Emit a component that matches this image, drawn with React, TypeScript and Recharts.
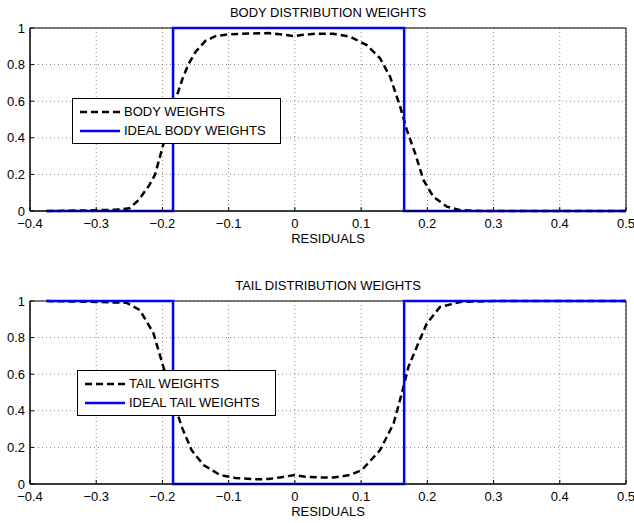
import React from 'react';
import {
  LineChart,
  Line,
  XAxis,
  YAxis,
  CartesianGrid,
  Legend,
  ReferenceArea,
} from 'recharts';

// ---- data ----
const xTicks = [-0.4, -0.3, -0.2, -0.1, 0, 0.1, 0.2, 0.3, 0.4, 0.5];
const yTicks = [0, 0.2, 0.4, 0.6, 0.8, 1];

const bodyX = [-0.375, -0.35, -0.3, -0.27, -0.25, -0.236, -0.22, -0.211, -0.199, -0.19, -0.181, -0.17, -0.161, -0.15, -0.135, -0.12, -0.1, -0.07, -0.04, -0.02, 0, 0.01, 0.03, 0.058, 0.083, 0.1085, 0.1286, 0.1438, 0.159, 0.169, 0.1816, 0.194, 0.209, 0.2295, 0.2495, 0.27, 0.3, 0.5];
const bodyY = [0, 0.001, 0.004, 0.007, 0.015, 0.06, 0.14, 0.2, 0.36, 0.48, 0.6, 0.72, 0.8, 0.87, 0.93, 0.955, 0.965, 0.97, 0.972, 0.965, 0.955, 0.962, 0.968, 0.968, 0.953, 0.907, 0.834, 0.734, 0.57, 0.443, 0.315, 0.17, 0.078, 0.024, 0.005, 0.001, 0, 0];

const idealBodyX = [-0.375, -0.184, -0.184, 0.165, 0.165, 0.5];
const idealBodyY = [0, 0, 1, 1, 0, 0];

const tailX = [-0.375, -0.3, -0.254, -0.234, -0.2137, -0.1986, -0.1835, -0.171, -0.156, -0.138, -0.113, -0.09, -0.0627, -0.04, -0.0224, 0, 0.015, 0.038, 0.058, 0.083, 0.101, 0.1286, 0.149, 0.1615, 0.1715, 0.184, 0.199, 0.219, 0.25, 0.3, 0.5];
const tailY = [1, 0.995, 0.99, 0.95, 0.825, 0.64, 0.458, 0.313, 0.185, 0.104, 0.049, 0.033, 0.026, 0.027, 0.036, 0.049, 0.04, 0.036, 0.035, 0.049, 0.076, 0.185, 0.33, 0.496, 0.64, 0.749, 0.876, 0.967, 0.995, 1, 1];

const idealTailX = [-0.375, -0.184, -0.184, 0.165, 0.165, 0.5];
const idealTailY = [1, 1, 0, 0, 1, 1];

const zip = (xs: number[], ys: number[]) => xs.map((x, i) => ({ x, y: ys[i] }));

const FONT = '"Liberation Sans", Arial, Helvetica, sans-serif';

const fmtX = (v: number) => {
  const r = Math.round(v * 10) / 10;
  if (r === 0) return '0';
  return r < 0 ? '\u2212' + Math.abs(r).toString() : r.toString();
};
const fmtY = (v: number) => {
  const r = Math.round(v * 10) / 10;
  return r.toString();
};

type LegendItem = { label: string; color: string; dash?: string };

const makeLegend = (items: LegendItem[]) => () => (
  <div
    style={{
      border: '1px solid #000',
      background: '#fff',
      fontFamily: FONT,
      fontSize: 13,
      color: '#000',
      padding: '3px 0 3px 7px',
      boxSizing: 'border-box',
    }}
  >
    {items.map((it) => (
      <div key={it.label} style={{ display: 'flex', alignItems: 'center', height: 19 }}>
        <svg width={42} height={10} style={{ marginRight: 2 }}>
          <line
            x1={0}
            y1={5}
            x2={40}
            y2={5}
            stroke={it.color}
            strokeWidth={2.5}
            strokeDasharray={it.dash}
          />
        </svg>
        <span style={{ whiteSpace: 'nowrap' }}>{it.label}</span>
      </div>
    ))}
  </div>
);

type PanelProps = {
  top: number;
  title: string;
  weights: { x: number; y: number }[];
  ideal: { x: number; y: number }[];
  weightsName: string;
  idealName: string;
  legendLeft: number;
  legendTop: number;
  legendWidth: number;
};

const tickStyle = { fill: '#000', fontFamily: FONT, fontSize: 13 };

const Panel = ({ top, title, weights, ideal, weightsName, idealName, legendLeft, legendTop, legendWidth }: PanelProps) => (
  <div style={{ position: 'absolute', left: 0, top, width: 634, height: 250 }}>
    <div
      style={{
        position: 'absolute',
        left: 30,
        top: 5,
        width: 596,
        textAlign: 'center',
        fontFamily: FONT,
        fontSize: 13,
        lineHeight: '15px',
        color: '#000',
      }}
    >
      {title}
    </div>
    <LineChart width={634} height={250} margin={{ top: 28, right: 8, bottom: 0, left: 0 }}>
      <CartesianGrid stroke="#888" strokeDasharray="1 3" />
      <XAxis
        type="number"
        dataKey="x"
        domain={[-0.4, 0.5]}
        ticks={xTicks}
        tickFormatter={fmtX}
        allowDataOverflow
        height={39}
        tickLine={{ stroke: '#000' }}
        tickSize={-4}
        tickMargin={12}
        axisLine={{ stroke: '#000' }}
        tick={tickStyle}
        interval={0}
        label={{ value: 'RESIDUALS', position: 'insideBottom', offset: 7, fill: '#000', fontFamily: FONT, fontSize: 13 }}
      />
      <XAxis
        xAxisId="top"
        orientation="top"
        type="number"
        dataKey="x"
        domain={[-0.4, 0.5]}
        ticks={xTicks}
        allowDataOverflow
        height={0}
        tick={false}
        tickLine={{ stroke: '#000' }}
        tickSize={-4}
        axisLine={false}
        interval={0}
      />
      <YAxis
        type="number"
        domain={[0, 1]}
        ticks={yTicks}
        tickFormatter={fmtY}
        width={30}
        tickLine={{ stroke: '#000' }}
        tickSize={-4}
        tickMargin={9}
        axisLine={{ stroke: '#000' }}
        tick={tickStyle}
        interval={0}
      />
      <YAxis
        yAxisId="right"
        orientation="right"
        type="number"
        domain={[0, 1]}
        ticks={yTicks}
        width={0}
        tick={false}
        tickLine={{ stroke: '#000' }}
        tickSize={-4}
        axisLine={false}
        interval={0}
      />
      <ReferenceArea x1={-0.4} x2={0.5} y1={0} y2={1} fill="none" stroke="#000" strokeWidth={1} />
      <Line
        data={weights}
        dataKey="y"
        name={weightsName}
        type="linear"
        stroke="#000"
        strokeWidth={2.5}
        strokeDasharray="7 4"
        dot={false}
        isAnimationActive={false}
      />
      <Line
        data={ideal}
        dataKey="y"
        name={idealName}
        type="linear"
        stroke="#0000ff"
        strokeWidth={2.5}
        dot={false}
        isAnimationActive={false}
      />
      <Legend
        layout="vertical"
        align="center"
        verticalAlign="middle"
        wrapperStyle={{ left: legendLeft, top: legendTop, width: legendWidth }}
        content={makeLegend([
          { label: weightsName, color: '#000', dash: '7 4' },
          { label: idealName, color: '#0000ff' },
        ])}
      />
    </LineChart>
  </div>
);

export default function App() {
  return (
    <div style={{ position: 'absolute', left: 0, top: 0, width: 634, height: 523, background: '#fff' }}>
      <Panel
        top={0}
        title="BODY DISTRIBUTION WEIGHTS"
        weights={zip(bodyX, bodyY)}
        ideal={zip(idealBodyX, idealBodyY)}
        weightsName="BODY WEIGHTS"
        idealName="IDEAL BODY WEIGHTS"
        legendLeft={72}
        legendTop={98}
        legendWidth={209}
      />
      <Panel
        top={273}
        title="TAIL DISTRIBUTION WEIGHTS"
        weights={zip(tailX, tailY)}
        ideal={zip(idealTailX, idealTailY)}
        weightsName="TAIL WEIGHTS"
        idealName="IDEAL TAIL WEIGHTS"
        legendLeft={77}
        legendTop={97}
        legendWidth={199}
      />
    </div>
  );
}
